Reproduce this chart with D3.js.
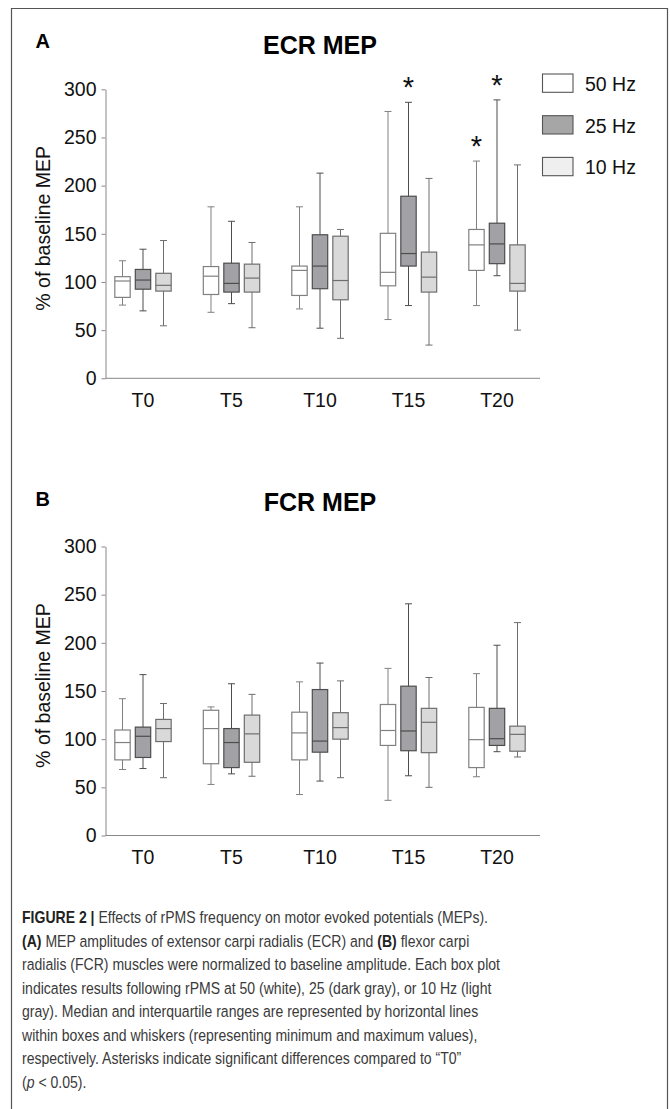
<!DOCTYPE html>
<html>
<head>
<meta charset="utf-8">
<script src="https://cdn.jsdelivr.net/npm/d3@7"></script>
<style>
  body { margin: 0; background: #fff; }
  svg { display: block; font-family: Arial, "Liberation Sans", sans-serif; }
</style>
</head>
<body>
<div id="chart-area"></div>
<script>
var width = 670;
var height = 1109;

var timepoints = ["T0", "T5", "T10", "T15", "T20"];
var freqs = ["50 Hz", "25 Hz", "10 Hz"];
var yTicks = [0, 50, 100, 150, 200, 250, 300];

// [min, q1, median, q3, max] for each time point
var ecr50 = [[76, 84, 101, 105.5, 122], [68.5, 87, 106, 116, 178], [72, 86, 112, 116.5, 178], [61, 96, 110, 150.5, 277], [75.5, 112, 138.5, 154.5, 225.5]];
var ecr25 = [[70, 92.5, 102, 113, 134], [77.5, 89.5, 98.5, 119.5, 163], [52, 93, 116.5, 149, 213], [75.5, 116.5, 129.5, 189, 286.5], [106.5, 119, 139.5, 161, 289]];
var ecr10 = [[54.5, 90.5, 96.5, 109, 143], [52.5, 89.5, 104, 118.5, 141], [41.5, 81.5, 101.5, 147.5, 154.5], [34.5, 89.5, 105, 131, 207.5], [50, 90.5, 98.5, 138.5, 221.5]];

var fcr50 = [[68.5, 78.5, 96.5, 109.5, 142], [53, 74.5, 111, 130, 133.5], [42.5, 78.5, 106.5, 128, 159.5], [36.5, 93.5, 109, 136, 173.5], [61, 70.5, 99.5, 133, 168]];
var fcr25 = [[69.5, 81, 103, 112.5, 167], [64, 70.5, 96.5, 111, 157.5], [56.5, 86.5, 98, 151.5, 179], [62, 88, 108.5, 155, 240.5], [87, 93.5, 100.5, 132, 197.5]];
var fcr10 = [[60, 97.5, 111, 120.5, 137], [61.5, 76, 105.5, 125, 146.5], [60, 100, 112, 127.5, 160.5], [50, 86, 117.5, 132, 164], [81.5, 87.5, 105, 113.5, 221]];

// significant vs T0 (ECR only)
var ecrStars = [["T15", "25 Hz"], ["T20", "50 Hz"], ["T20", "25 Hz"]];

var captionLines = [
    [["FIGURE 2 | ", "b"], ["Effects of rPMS frequency on motor evoked potentials (MEPs).", ""]],
    [["(A)", "b"], [" MEP amplitudes of extensor carpi radialis (ECR) and ", ""], ["(B)", "b"], [" flexor carpi", ""]],
    [["radialis (FCR) muscles were normalized to baseline amplitude. Each box plot", ""]],
    [["indicates results following rPMS at 50 (white), 25 (dark gray), or 10 Hz (light", ""]],
    [["gray). Median and interquartile ranges are represented by horizontal lines", ""]],
    [["within boxes and whiskers (representing minimum and maximum values),", ""]],
    [["respectively. Asterisks indicate significant differences compared to \u201cT0\u201d", ""]],
    [["(", ""], ["p", "i"], [" < 0.05).", ""]]
];

var fills = {"50 Hz": "#ffffff", "25 Hz": "#a2a2a6", "10 Hz": "#d9d9d9"};
var strokes = {"50 Hz": "#808080", "25 Hz": "#4d4d4d", "10 Hz": "#6e6e6e"};
var legendFills = {"50 Hz": "#ffffff", "25 Hz": "#a6a6a6", "10 Hz": "#efefef"};

var svg = d3.select("#chart-area").append("svg")
    .attr("width", width)
    .attr("height", height);

// outer frame (open at the bottom)
svg.append("path")
    .attr("d", "M11.5," + height + "V8.5H667.5V" + height)
    .attr("fill", "none")
    .attr("stroke", "#555")
    .attr("stroke-width", 1.2);

var x = d3.scalePoint().domain(timepoints).range([143, 497]);
var xInner = d3.scaleBand().domain(freqs).range([-28.2, 28.2]).paddingInner(0.25);
var axisX = 105.5;
var axisEnd = 540;

function drawPanel(top, letter, title, series, stars) {
    var y = d3.scaleLinear().domain([0, 300]).range([top + 289, top]);
    var g = svg.append("g");

    g.append("text")
        .attr("x", 35.5)
        .attr("y", top - 41)
        .attr("font-size", 20)
        .attr("font-weight", "bold")
        .text(letter);

    g.append("text")
        .attr("x", 320)
        .attr("y", top - 35.5)
        .attr("text-anchor", "middle")
        .attr("font-size", 25)
        .attr("font-weight", "bold")
        .text(title);

    var yAxis = g.append("g")
        .attr("transform", "translate(" + axisX + ",0)")
        .call(d3.axisLeft(y).tickValues(yTicks).tickSize(4).tickSizeOuter(0).tickPadding(5));
    yAxis.select(".domain").attr("stroke", "#888");
    yAxis.selectAll(".tick line").attr("stroke", "#888");
    yAxis.selectAll(".tick text")
        .attr("font-size", 19.5)
        .attr("font-family", "Arial, 'Liberation Sans', sans-serif")
        .attr("fill", "#111");

    g.append("text")
        .attr("transform", "translate(50," + (top + 139) + ") rotate(-90)")
        .attr("text-anchor", "middle")
        .attr("font-size", 19.5)
        .attr("fill", "#111")
        .text("% of baseline MEP");

    g.append("line")
        .attr("x1", axisX).attr("x2", axisEnd)
        .attr("y1", y(0)).attr("y2", y(0))
        .attr("stroke", "#888");

    g.selectAll(".xlab")
        .data(timepoints)
        .enter()
        .append("text")
        .attr("x", function(d) { return x(d); })
        .attr("y", y(0) + 28.5)
        .attr("text-anchor", "middle")
        .attr("font-size", 19.5)
        .attr("fill", "#111")
        .text(function(d) { return d; });

    freqs.forEach(function(f, fi) {
        var rows = series[fi].map(function(v, i) {
            return {t: timepoints[i], f: f, min: v[0], q1: v[1], med: v[2], q3: v[3], max: v[4]};
        });
        var bw = xInner.bandwidth();
        var boxes = g.selectAll(".box-" + fi)
            .data(rows)
            .enter()
            .append("g")
            .attr("transform", function(d) {
                return "translate(" + (x(d.t) + xInner(f) + bw / 2) + ",0)";
            });

        boxes.append("line")
            .attr("x1", 0).attr("x2", 0)
            .attr("y1", function(d) { return y(d.max); })
            .attr("y2", function(d) { return y(d.min); })
            .attr("stroke", strokes[f]);
        boxes.append("line")
            .attr("x1", -3.5).attr("x2", 3.5)
            .attr("y1", function(d) { return y(d.max); })
            .attr("y2", function(d) { return y(d.max); })
            .attr("stroke", strokes[f]);
        boxes.append("line")
            .attr("x1", -3.5).attr("x2", 3.5)
            .attr("y1", function(d) { return y(d.min); })
            .attr("y2", function(d) { return y(d.min); })
            .attr("stroke", strokes[f]);
        boxes.append("rect")
            .attr("x", -bw / 2)
            .attr("width", bw)
            .attr("y", function(d) { return y(d.q3); })
            .attr("height", function(d) { return y(d.q1) - y(d.q3); })
            .attr("fill", fills[f])
            .attr("stroke", strokes[f])
            .attr("stroke-width", 1.2);
        boxes.append("line")
            .attr("x1", -bw / 2).attr("x2", bw / 2)
            .attr("y1", function(d) { return y(d.med); })
            .attr("y2", function(d) { return y(d.med); })
            .attr("stroke", strokes[f])
            .attr("stroke-width", 1.2);
    });

    stars.forEach(function(s) {
        var fi = freqs.indexOf(s[1]);
        var ti = timepoints.indexOf(s[0]);
        g.append("text")
            .attr("x", x(s[0]) + xInner(s[1]) + xInner.bandwidth() / 2)
            .attr("y", y(series[fi][ti][4]) - 5)
            .attr("text-anchor", "middle")
            .attr("font-size", 29)
            .attr("fill", "#111")
            .text("*");
    });
}

drawPanel(89.3, "A", "ECR MEP", [ecr50, ecr25, ecr10], ecrStars);
drawPanel(546.5, "B", "FCR MEP", [fcr50, fcr25, fcr10], []);

// legend
var legend = svg.append("g");
freqs.forEach(function(f, i) {
    var ly = 74 + i * 41.7;
    legend.append("rect")
        .attr("x", 542.5).attr("y", ly)
        .attr("width", 30.5).attr("height", 18.3)
        .attr("fill", legendFills[f])
        .attr("stroke", "#555")
        .attr("stroke-width", 1.1);
    legend.append("text")
        .attr("x", 585)
        .attr("y", ly + 17)
        .attr("font-size", 19.5)
        .attr("fill", "#111")
        .text(f);
});

// caption (narrow face, squeezed a little to match the condensed original)
var cap = svg.append("g")
    .attr("transform", "translate(22,0) scale(0.9,1)")
    .attr("font-family", "'Liberation Sans Narrow', 'Liberation Sans', Arial, sans-serif")
    .attr("font-size", 15.6);
captionLines.forEach(function(parts, i) {
    var t = cap.append("text")
        .attr("x", 0)
        .attr("y", 923.5 + i * 23.45)
        .attr("fill", "#3a3a3a");
    parts.forEach(function(p) {
        var ts = t.append("tspan").text(p[0]);
        if (p[1] === "b") ts.attr("font-weight", "bold").attr("fill", "#222");
        if (p[1] === "i") ts.attr("font-style", "italic");
    });
});
</script>
</body>
</html>
